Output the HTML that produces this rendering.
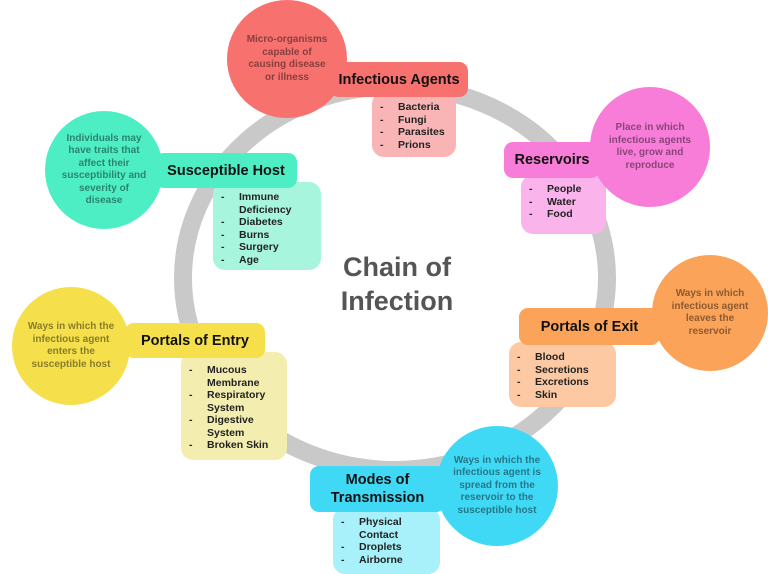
<!DOCTYPE html>
<html><head><style>
body{margin:0;width:768px;height:568px;background:#fff;overflow:hidden;position:relative;font-family:"Liberation Sans",Arial,sans-serif;font-weight:bold}
.c{position:absolute;border-radius:50%;display:flex;align-items:center;justify-content:center;text-align:center;font-size:10px;line-height:12.5px;color:rgba(0,0,0,0.45)}
.l{position:absolute;border-radius:9px;display:flex;align-items:center;justify-content:center;font-size:14.5px;color:#111;text-align:center;line-height:18px}
.s{position:absolute;border-radius:12px;font-size:10.5px;color:#222;line-height:12.5px;box-sizing:border-box}
.s div{position:relative;padding-left:26px}
.s div.d:before{content:"-";position:absolute;left:8px}
</style></head><body>
<svg width="768" height="568" style="position:absolute;left:0;top:0">
<ellipse cx="395" cy="278" rx="212" ry="192" fill="none" stroke="#c9c9c9" stroke-width="18"/>
<text x="397" y="276" text-anchor="middle" font-size="27" font-weight="bold" fill="#555" font-family="Liberation Sans,sans-serif">Chain of</text>
<text x="397" y="310" text-anchor="middle" font-size="27" font-weight="bold" fill="#555" font-family="Liberation Sans,sans-serif">Infection</text>
</svg>

<!-- Infectious Agents -->
<div class="s" style="left:372px;top:92px;width:84px;height:65px;background:#f9b5b5;padding-top:9px"><div class="d">Bacteria</div><div class="d">Fungi</div><div class="d">Parasites</div><div class="d">Prions</div></div>
<div class="c" style="left:227px;top:0px;width:120px;height:118px;background:#f7716e">Micro-organisms<br>capable of<br>causing disease<br>or illness</div>
<div class="l" style="left:330px;top:62px;width:138px;height:35px;background:#f7716e">Infectious Agents</div>

<!-- Susceptible Host -->
<div class="s" style="left:213px;top:182px;width:108px;height:88px;background:#a8f5de;padding-top:9px"><div class="d">Immune</div><div>Deficiency</div><div class="d">Diabetes</div><div class="d">Burns</div><div class="d">Surgery</div><div class="d">Age</div></div>
<div class="c" style="left:45px;top:111px;width:118px;height:118px;background:#4eeec4">Individuals may<br>have traits that<br>affect their<br>susceptibility and<br>severity of<br>disease</div>
<div class="l" style="left:155px;top:153px;width:142px;height:35px;background:#4eeec4">Susceptible Host</div>

<!-- Reservoirs -->
<div class="s" style="left:521px;top:175px;width:85px;height:59px;background:#fbb3ec;padding-top:8px"><div class="d">People</div><div class="d">Water</div><div class="d">Food</div></div>
<div class="c" style="left:590px;top:87px;width:120px;height:120px;background:#f77dd9">Place in which<br>infectious agents<br>live, grow and<br>reproduce</div>
<div class="l" style="left:504px;top:142px;width:96px;height:36px;background:#f77dd9">Reservoirs</div>

<!-- Portals of Exit -->
<div class="s" style="left:509px;top:342px;width:107px;height:65px;background:#fdc9a3;padding-top:9px"><div class="d">Blood</div><div class="d">Secretions</div><div class="d">Excretions</div><div class="d">Skin</div></div>
<div class="c" style="left:652px;top:255px;width:116px;height:116px;background:#fba358">Ways in which<br>infectious agent<br>leaves the<br>reservoir</div>
<div class="l" style="left:519px;top:308px;width:141px;height:37px;background:#fba358">Portals of Exit</div>

<!-- Portals of Entry -->
<div class="s" style="left:181px;top:352px;width:106px;height:108px;background:#f3eeb0;padding-top:12px"><div class="d">Mucous</div><div>Membrane</div><div class="d">Respiratory</div><div>System</div><div class="d">Digestive</div><div>System</div><div class="d">Broken Skin</div></div>
<div class="c" style="left:12px;top:287px;width:118px;height:118px;background:#f5e04b">Ways in which the<br>infectious agent<br>enters the<br>susceptible host</div>
<div class="l" style="left:125px;top:323px;width:140px;height:35px;background:#f5e04b">Portals of Entry</div>

<!-- Modes of Transmission -->
<div class="s" style="left:333px;top:508px;width:107px;height:66px;background:#a8f0fa;padding-top:8px"><div class="d">Physical</div><div>Contact</div><div class="d">Droplets</div><div class="d">Airborne</div></div>
<div class="c" style="left:436px;top:426px;width:122px;height:120px;background:#40d9f5">Ways in which the<br>infectious agent is<br>spread from the<br>reservoir to the<br>susceptible host</div>
<div class="l" style="left:310px;top:466px;width:135px;height:46px;background:#40d9f5">Modes of<br>Transmission</div>
</body></html>
